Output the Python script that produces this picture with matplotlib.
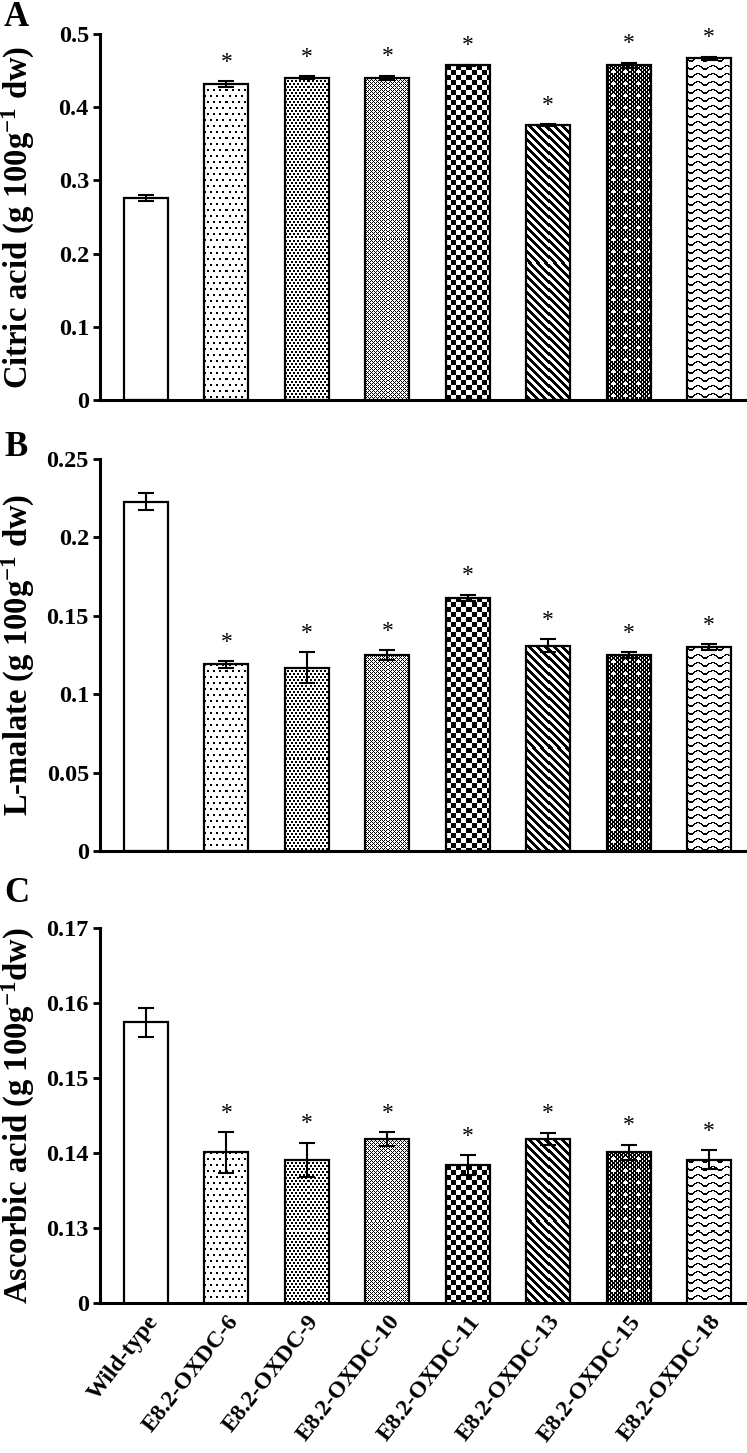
import matplotlib
matplotlib.use('Agg')
import matplotlib.pyplot as plt
import numpy as np

plt.rcParams['font.family'] = ['Liberation Serif', 'DejaVu Serif']
plt.rcParams['font.weight'] = 'bold'
plt.rcParams['mathtext.fontset'] = 'custom'
plt.rcParams['mathtext.rm'] = 'Liberation Serif:bold'
plt.rcParams['mathtext.it'] = 'Liberation Serif:bold'
plt.rcParams['mathtext.bf'] = 'Liberation Serif:bold'

lines = ['Wild-type', 'E8.2-OXDC-6', 'E8.2-OXDC-9', 'E8.2-OXDC-10',
         'E8.2-OXDC-11', 'E8.2-OXDC-13', 'E8.2-OXDC-15', 'E8.2-OXDC-18']

citric = [0.276, 0.432, 0.440, 0.440, 0.457, 0.376, 0.457, 0.467]
citric_err = [0.004, 0.004, 0.002, 0.003, 0.001, 0.001, 0.004, 0.002]

malate = [0.2228, 0.119, 0.117, 0.125, 0.1615, 0.131, 0.125, 0.130]
malate_err = [0.0056, 0.002, 0.010, 0.003, 0.002, 0.004, 0.002, 0.002]

ascorbic = [0.1574, 0.1401, 0.1391, 0.1419, 0.1384, 0.1419, 0.1401, 0.1391]
ascorbic_err = [0.0019, 0.0027, 0.0023, 0.0009, 0.0013, 0.0008, 0.0010, 0.0013]

signif = [False, True, True, True, True, True, True, True]
kinds = ['blank', 'dots', 'fine_dots', 'diamond', 'checker', 'diag', 'dark', 'wave']


def pattern(kind, ny, nx):
    i, j = np.mgrid[0:ny, 0:nx]
    if kind == 'dots':
        return (((i % 12) < 2) & ((j % 6) < 2)) | ((((i + 6) % 12) < 2) & (((j + 3) % 6) < 2))
    if kind == 'fine_dots':
        return (((i % 6) < 2) & ((j % 4) < 2)) | ((((i + 3) % 6) < 2) & (((j + 2) % 4) < 2))
    if kind == 'diamond':
        return ((i + j) % 4 == 0) | ((i - j) % 4 == 0)
    if kind == 'checker':
        return ((i // 5) + (j // 5)) % 2 == 0
    if kind == 'diag':
        return ((j - i) % 8) < 4
    if kind == 'dark':
        base = (((i + j) % 4) < 2) | (((i - j) % 4) < 2)
        spark = ((i % 12 - 6) ** 2 + (j % 12 - 6) ** 2) <= 2
        return base & ~spark
    if kind == 'wave':
        d = (i - 2.0 * np.sin(2 * np.pi * j / 14.0)) % 8
        return d < 1.6
    return np.zeros((ny, nx), bool)


W, H = 747, 1453
fig = plt.figure(figsize=(W / 100, H / 100), dpi=100)

x = np.arange(len(lines))
bw = 0.55


def make_axes(top, bottom):
    return fig.add_axes([100 / W, 1 - bottom / H, (W - 100) / W, (bottom - top) / H])


def draw_panel(ax, vals, errs, ylo, yhi, ticks, ticklabels, ylabel):
    ax.set_xlim(-0.57, 7.47)
    ax.set_ylim(ylo, yhi)
    ax.set_autoscale_on(False)
    bars = ax.bar(x, vals, width=bw, facecolor='none', edgecolor='black',
                  linewidth=1.6, zorder=3)
    ax.errorbar(x, vals, yerr=errs, fmt='none', ecolor='black', elinewidth=1.5,
                capsize=6, capthick=1.5, zorder=4)
    for k, b in enumerate(bars):
        x0, x1 = x[k] - bw / 2, x[k] + bw / 2
        y0, y1 = max(ylo, 0), vals[k]
        p0 = ax.transData.transform((x0, y0))
        p1 = ax.transData.transform((x1, y1))
        nx = max(1, int(round(p1[0] - p0[0])))
        ny = max(1, int(round(p1[1] - p0[1])))
        arr = np.where(pattern(kinds[k], ny, nx), 0.0, 1.0)
        im = ax.imshow(arr, extent=(x0, x1, y0, y1), cmap='gray', vmin=0, vmax=1,
                       interpolation='nearest', aspect='auto', zorder=2)
        im.set_clip_path(b)
        if signif[k]:
            ax.annotate('*', (x[k], vals[k] + errs[k]), xytext=(0, 6),
                        textcoords='offset points', ha='center', va='bottom',
                        fontsize=17, fontweight='normal')
    for s in ['top', 'right']:
        ax.spines[s].set_visible(False)
    for s in ['left', 'bottom']:
        ax.spines[s].set_linewidth(2.2)
    ax.set_yticks(ticks)
    ax.set_yticklabels(ticklabels)
    ax.tick_params(axis='y', direction='out', length=5, width=2, labelsize=17.5, pad=3)
    ax.tick_params(axis='x', length=0)
    ax.set_xticks(x)
    ax.set_xticklabels([])
    ax.set_ylabel(ylabel, fontsize=23.5, fontweight='bold', va='center')
    ax.yaxis.set_label_coords(-0.126, 0.5)


axA = make_axes(34, 400)
draw_panel(axA, citric, citric_err, 0, 0.5, [0, 0.1, 0.2, 0.3, 0.4, 0.5],
           ['0', '0.1', '0.2', '0.3', '0.4', '0.5'],
           r'Citric acid (g 100g$^{-1}$ dw)')

axB = make_axes(459, 851)
draw_panel(axB, malate, malate_err, 0, 0.25, [0, 0.05, 0.1, 0.15, 0.2, 0.25],
           ['0', '0.05', '0.1', '0.15', '0.2', '0.25'],
           r'L-malate (g 100g$^{-1}$ dw)')

axC = make_axes(928, 1303)
draw_panel(axC, ascorbic, ascorbic_err, 0.12, 0.17,
           [0.12, 0.13, 0.14, 0.15, 0.16, 0.17],
           ['0', '0.13', '0.14', '0.15', '0.16', '0.17'],
           r'Ascorbic acid (g 100g$^{-1}$dw)')
axC.set_xticklabels(lines, rotation=52, ha='right', rotation_mode='anchor',
                    fontsize=17, fontweight='bold')
axC.tick_params(axis='x', pad=6)

for letter, ypx in [('A', 18), ('B', 448), ('C', 893)]:
    fig.text(4 / W, 1 - ypx / H, letter, fontsize=25, fontweight='bold', va='center', ha='left')

fig.savefig('out.png', dpi=100)
